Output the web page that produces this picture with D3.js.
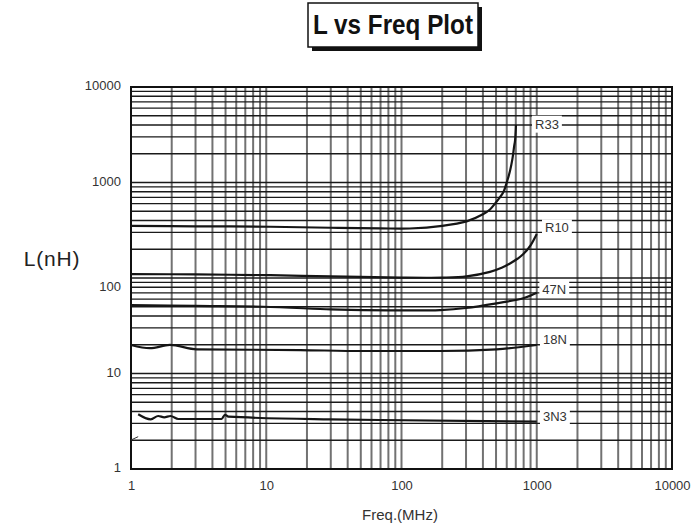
<!DOCTYPE html>
<html>
<head>
<meta charset="utf-8">
<script src="https://cdn.jsdelivr.net/npm/d3@7"></script>
<style>
  html, body { margin: 0; padding: 0; background: #fff; }
  svg { display: block; font-family: "Liberation Sans", Arial, sans-serif; }
</style>
</head>
<body>
<svg id="chart" width="691" height="530"></svg>
<script>
// ---------------- DATA ----------------
const title = "L vs Freq Plot";
const xTitle = "Freq.(MHz)";
const yTitle = "L(nH)";
const xTickValues = [1, 10, 100, 1000, 10000];
const yTickValues = [1, 10, 100, 1000, 10000];

const seriesNames = ["R33", "R10", "47N", "18N", "3N3"];

const r33Freq = [1, 3, 10.7, 30, 70, 115, 200, 303, 400, 451, 491, 530, 566, 600, 634, 660, 680, 691, 702];
const r33L    = [352, 348, 344, 336, 331, 330, 352, 392, 465, 522, 600, 690, 790, 1000, 1320, 1745, 2370, 2750, 4000];

const r10Freq = [1, 3, 10.7, 30, 100, 200, 303, 451, 550, 634, 720, 796, 900, 1000];
const r10L    = [110, 109, 107, 104, 101, 101, 104, 116, 128, 142, 159, 178, 220, 289];

const n47Freq = [1, 3, 9.5, 30, 52, 100, 193, 300, 505, 795, 1000];
const n47L    = [52, 51, 50, 47, 46.2, 45.8, 46.2, 48.5, 54.3, 61.3, 70];

const n18Freq = [1, 1.38, 1.94, 3.06, 17.8, 52, 193, 505, 1000];
const n18L    = [19.9, 18.4, 19.9, 17.9, 17.6, 17.2, 17.2, 17.9, 19.9];

const n3Freq = [1.13, 1.4, 1.59, 1.76, 1.96, 2.24, 4.68, 4.95, 5.25, 29.6, 69, 1000];
const n3L    = [3.74, 3.31, 3.59, 3.48, 3.59, 3.34, 3.34, 3.70, 3.53, 3.31, 3.26, 3.13];

const stubFreq = [1, 1.13];
const stubL    = [2.01, 2.18];

// label anchors (data units: MHz, nH)
const labelFreq = [971, 1151, 1100, 1112, 1112];
const labelL    = [4100, 336, 76.7, 23.0, 3.53];

// ---------------- CHART ----------------
const svg = d3.select("#chart");
const x = d3.scaleLog().domain([1, 10000]).range([131, 672]);
const y = d3.scaleLog().domain([1, 10000]).range([469, 87]);

// minor values
const minor = [];
for (let d = 1; d < 10000; d *= 10) for (let k = 2; k <= 9; k++) minor.push(d * k);
const gridVals = minor.concat([10, 100, 1000]);

const grid = svg.append("g");
// vertical grid (gray)
grid.selectAll("line.v").data(gridVals).join("line")
  .attr("x1", d => x(d)).attr("x2", d => x(d))
  .attr("y1", y(1)).attr("y2", y(10000))
  .attr("stroke", "#727272").attr("stroke-width", 2);
// horizontal grid (black)
grid.selectAll("line.h").data(gridVals).join("line")
  .attr("y1", d => y(d)).attr("y2", d => y(d))
  .attr("x1", x(1)).attr("x2", x(10000))
  .attr("stroke", "#1a1a1a").attr("stroke-width", 1.3);

// border
svg.append("rect")
  .attr("x", x(1)).attr("y", y(10000))
  .attr("width", x(10000) - x(1)).attr("height", y(1) - y(10000))
  .attr("fill", "none").attr("stroke", "#111").attr("stroke-width", 2);

// axes labels via d3 axes (no lines)
const xAxis = d3.axisBottom(x).tickValues(xTickValues).tickFormat(d3.format("d")).tickSize(0).tickPadding(12);
const gx = svg.append("g").attr("transform", `translate(0,${y(1)})`).call(xAxis);
gx.select(".domain").remove();
gx.selectAll("text").attr("font-size", 13).attr("fill", "#333")
  .attr("font-family", "'Liberation Sans', Arial, sans-serif");

const yAxis = d3.axisLeft(y).tickValues(yTickValues).tickFormat(d3.format("d")).tickSize(0).tickPadding(10);
const gy = svg.append("g").attr("transform", `translate(${x(1)},0)`).call(yAxis);
gy.select(".domain").remove();
gy.selectAll("text").attr("font-size", 13).attr("fill", "#333")
  .attr("font-family", "'Liberation Sans', Arial, sans-serif")
  .attr("dy", d => d === 100 ? "0.95em" : "0.2em");

// curves
const smooth = d3.line().x(d => x(d[0])).y(d => y(d[1])).curve(d3.curveCatmullRom.alpha(0.5));
const mono = d3.line().x(d => x(d[0])).y(d => y(d[1])).curve(d3.curveMonotoneX);
const series = [
  [r33Freq, r33L, smooth], [r10Freq, r10L, smooth], [n47Freq, n47L, smooth],
  [n18Freq, n18L, mono], [n3Freq, n3L, mono]
];
series.forEach(([f, l, gen]) => {
  svg.append("path").datum(f.map((v, i) => [v, l[i]]))
    .attr("d", gen).attr("fill", "none")
    .attr("stroke", "#151515").attr("stroke-width", 2.2).attr("stroke-linejoin", "round");
});
svg.append("path").datum(stubFreq.map((v, i) => [v, stubL[i]]))
  .attr("d", d3.line().x(d => x(d[0])).y(d => y(d[1])))
  .attr("fill", "none").attr("stroke", "#333").attr("stroke-width", 1);

// series labels with white boxes
seriesNames.forEach((name, i) => {
  const g = svg.append("g");
  const t = g.append("text")
    .attr("x", x(labelFreq[i])).attr("y", y(labelL[i]))
    .attr("dy", "0.36em")
    .attr("font-size", 13).attr("fill", "#333")
    .text(name);
  const bb = t.node().getBBox();
  g.insert("rect", "text")
    .attr("x", bb.x - 3).attr("y", bb.y - 1)
    .attr("width", bb.width + 6).attr("height", bb.height + 2)
    .attr("fill", "#fff");
});

// axis titles
svg.append("text").attr("x", 400).attr("y", 520).attr("text-anchor", "middle")
  .attr("font-size", 15).attr("fill", "#333").text(xTitle);
svg.append("text").attr("x", 52).attr("y", 258).attr("text-anchor", "middle")
  .attr("dy", "0.36em").attr("font-size", 21).attr("letter-spacing", 0.8)
  .attr("fill", "#222").text(yTitle);

// title box with shadow
const tb = { x: 308, y: 3, w: 170, h: 44 };
svg.append("rect").attr("x", tb.x + 4).attr("y", tb.y + 4).attr("width", tb.w).attr("height", tb.h).attr("fill", "#111");
svg.append("rect").attr("x", tb.x).attr("y", tb.y).attr("width", tb.w).attr("height", tb.h)
  .attr("fill", "#fff").attr("stroke", "#111").attr("stroke-width", 1.5);
svg.append("text").attr("x", tb.x + 5).attr("y", 34)
  .attr("font-family", "'Liberation Sans Narrow', 'Liberation Sans', Arial, sans-serif")
  .attr("font-weight", "bold").attr("font-size", 28).attr("fill", "#111")
  .attr("textLength", 160).attr("lengthAdjust", "spacingAndGlyphs")
  .text(title);
</script>
</body>
</html>
